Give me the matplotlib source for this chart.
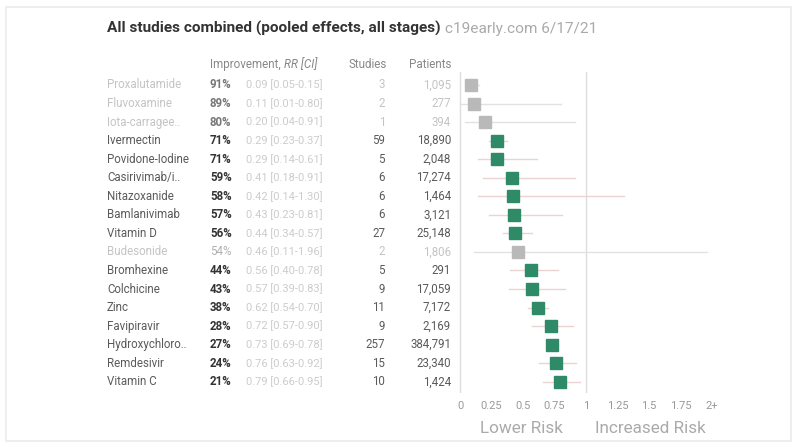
import matplotlib
matplotlib.use("Agg")
import matplotlib.pyplot as plt
from matplotlib import transforms
from matplotlib.patches import Rectangle

plt.rcParams['font.family'] = ['Roboto', 'DejaVu Sans']

treatments = ["Proxalutamide", "Fluvoxamine", "Iota-carragee..", "Ivermectin", "Povidone-Iodine",
              "Casirivimab/i..", "Nitazoxanide", "Bamlanivimab", "Vitamin D", "Budesonide",
              "Bromhexine", "Colchicine", "Zinc", "Favipiravir", "Hydroxychloro..",
              "Remdesivir", "Vitamin C"]
rr = [0.09, 0.11, 0.20, 0.29, 0.29, 0.41, 0.42, 0.43, 0.44, 0.46,
      0.56, 0.57, 0.62, 0.72, 0.73, 0.76, 0.79]
ci_low = [0.05, 0.01, 0.04, 0.23, 0.14, 0.18, 0.14, 0.23, 0.34, 0.11,
          0.40, 0.39, 0.54, 0.57, 0.69, 0.63, 0.66]
ci_high = [0.15, 0.80, 0.91, 0.37, 0.61, 0.91, 1.30, 0.81, 0.57, 1.96,
           0.78, 0.83, 0.70, 0.90, 0.78, 0.92, 0.95]
studies = [3, 2, 1, 59, 5, 6, 6, 6, 27, 2, 5, 9, 11, 9, 257, 15, 10]
patients = ["1,095", "277", "394", "18,890", "2,048", "17,274", "1,464", "3,121", "25,148",
            "1,806", "291", "17,059", "7,172", "2,169", "384,791", "23,340", "1,424"]
faded = [True, True, True, False, False, False, False, False, False, True,
         False, False, False, False, False, False, False]
tick_vals = [0, 0.25, 0.5, 0.75, 1, 1.25, 1.5, 1.75, 2]
tick_labels = ["0", "0.25", "0.5", "0.75", "1", "1.25", "1.5", "1.75", "2+"]

W, H = 798, 444
fig = plt.figure(figsize=(W / 100, H / 100), dpi=100)
fig.patch.set_facecolor("white")

def fx(px):
    return px / W

def fy(py):
    return 1 - py / H

# border
fig.add_artist(Rectangle((fx(6), fy(441)), fx(785), (441 - 7) / H, transform=fig.transFigure,
                         fill=False, edgecolor="#ebebeb", lw=1.2))

# forest axes
ax_left, ax_right, ax_top, ax_bot = 455, 725, 72, 393
ax = fig.add_axes([fx(ax_left), fy(ax_bot), fx(ax_right - ax_left), (ax_bot - ax_top) / H])
unit = 126.0
ax.set_xlim((ax_left - 460) / unit, (ax_right - 460) / unit)
row0, step = 85.0, 18.55
ax.set_ylim((ax_bot - row0) / step, (ax_top - row0) / step)
for s in ax.spines.values():
    s.set_visible(False)
ax.set_yticks([])
ax.set_xticks(tick_vals)
ax.set_xticklabels(tick_labels)
ax.tick_params(axis="x", length=0, pad=6, labelsize=8, labelcolor="#999999")
ax.axvline(0, color="#dddddd", lw=1, zorder=0)
ax.axvline(1, color="#dddddd", lw=1, zorder=0)

green = "#2f8a68"
grey = "#b9b9b9"
for i in range(len(treatments)):
    col = grey if faded[i] else green
    lcol = "#e2e2e2" if faded[i] else "#ecd3d3"
    ax.plot([ci_low[i], ci_high[i]], [i, i], color=lcol, lw=1.0, zorder=1)
    ax.plot([rr[i]], [i], marker="s", ms=8.3, color=col, mec=col, zorder=2, linestyle="none")

# table text
tr = transforms.blended_transform_factory(fig.transFigure, ax.transData)
fs = 8.3
for i in range(len(treatments)):
    lab_c = "#c4c4c4" if faded[i] else "#5a5a5a"
    pct_c = "#b0b0b0" if i == 9 else ("#777777" if faded[i] else "#333333")
    pct_w = "normal" if i == 9 else "bold"
    num_c = "#c4c4c4" if faded[i] else "#5a5a5a"
    ax.text(fx(107), i, treatments[i], transform=tr, ha="left", va="center", fontsize=fs, color=lab_c)
    ax.text(fx(210), i, f"{round((1 - rr[i]) * 100)}%", transform=tr, ha="left", va="center",
            fontsize=fs, color=pct_c, fontweight=pct_w)
    ax.text(fx(246), i, f"{rr[i]:.2f} [{ci_low[i]:.2f}-{ci_high[i]:.2f}]", transform=tr,
            ha="left", va="center", fontsize=fs - 0.3, color="#cccccc")
    ax.text(fx(385), i, str(studies[i]), transform=tr, ha="right", va="center", fontsize=fs, color=num_c)
    ax.text(fx(451), i, patients[i], transform=tr, ha="right", va="center", fontsize=fs, color=num_c)

hy = (65 - row0) / step
hfs = 8.4
h1 = ax.text(fx(210), hy, "Improvement, ", transform=tr, ha="left", va="center", fontsize=hfs, color="#888888")
ax.annotate("RR [CI]", xy=(1, 0.5), xycoords=h1, ha="left", va="center", fontsize=hfs,
            color="#888888", fontstyle="italic")
ax.text(fx(387), hy, "Studies", transform=tr, ha="right", va="center", fontsize=hfs, color="#888888")
ax.text(fx(451), hy, "Patients", transform=tr, ha="right", va="center", fontsize=hfs, color="#888888")

# risk labels
tr2 = transforms.blended_transform_factory(ax.transData, fig.transFigure)
ax.text(0.49, fy(428), "Lower Risk", transform=tr2, ha="center", va="center", fontsize=12.3, color="#aaaaaa")
ax.text(1.51, fy(428), "Increased Risk", transform=tr2, ha="center", va="center", fontsize=12.3, color="#aaaaaa")

# title
t = fig.text(fx(107), fy(28), "All studies combined (pooled effects, all stages)", ha="left", va="center",
             fontsize=11.1, fontweight="bold", color="#333333")
ax.annotate(" c19early.com 6/17/21", xy=(1, 0), xycoords=t, ha="left", va="bottom",
            fontsize=11.1, color="#aaaaaa", annotation_clip=False)

fig.savefig("out.png", dpi=100, facecolor="white")
